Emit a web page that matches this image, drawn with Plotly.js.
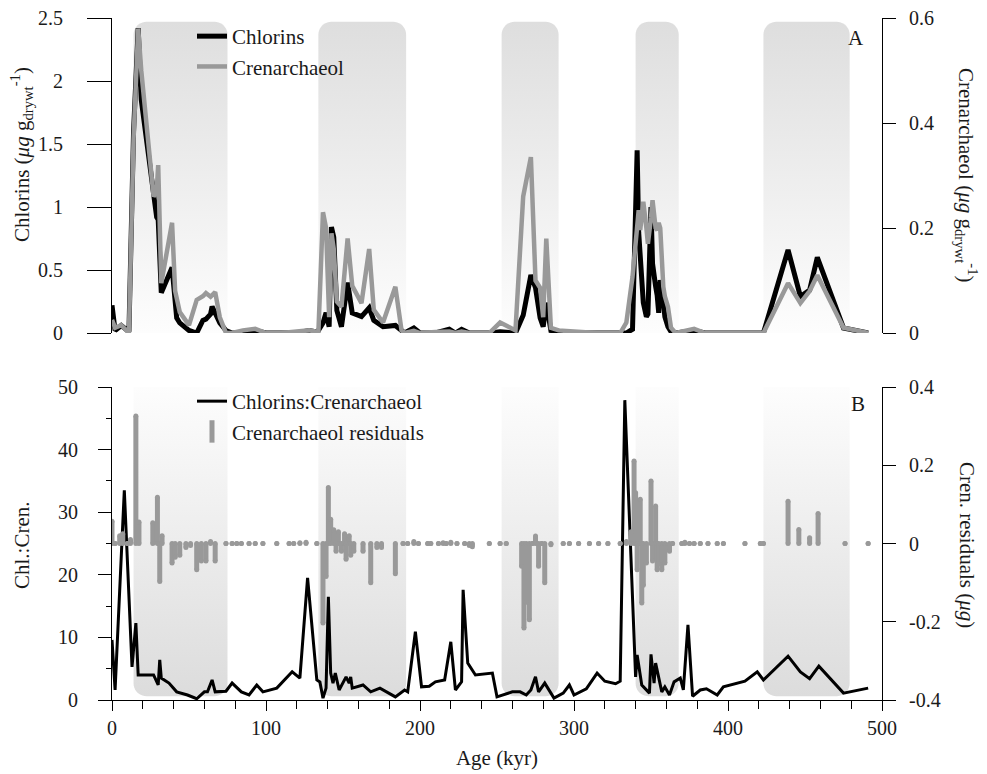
<!DOCTYPE html>
<html>
<head>
<meta charset="utf-8">
<script src="https://cdn.plot.ly/plotly-3.0.1.min.js"></script>
<style>html,body{margin:0;padding:0;background:#fff;}#chart{width:987px;height:774px;}</style>
</head>
<body>
<div id="chart"></div>
<script>
// ---------- data ----------
const ageTop = [0,2,6,11,14,17,19,27,29,30,32,39,41,42,44,50,55,59,61,64,65,67,70,74,78,85,93,100,110,120,128,132,134,137,139,141,142.5,144,146,149,153,156,162,167,170,176,184,188,190,196,200,210,219,223,227,232,245,252,262,267,272,275,278,280,282,285,290,300,315,330,334,338,341,342,343,345,347,348,350,351,353,354,355,356,358,359,361,363,366,372,378,385,400,415,423,439,447,453,458,475,491];
const chlorins = [0.22,0.02,0.06,0.01,1.6,2.42,1.85,1.05,0.92,0.9,0.32,0.52,0.17,0.12,0.08,0.02,0.0,0.1,0.11,0.15,0.21,0.15,0.08,0.02,0.0,0.0,0.02,0.0,0.0,0.0,0.02,0.01,0.02,0.08,0.16,0.05,0.84,0.76,0.18,0.05,0.4,0.16,0.13,0.2,0.1,0.05,0.06,0.02,0.0,0.04,0.0,0.0,0.03,0.0,0.03,0.0,0.0,0.01,0.0,0.14,0.46,0.36,0.12,0.05,0.24,0.02,0.01,0.0,0.0,0.0,0.0,0.03,1.45,0.8,0.55,0.24,0.13,0.15,1.0,0.55,0.37,0.3,0.16,0.42,0.25,0.13,0.05,0.01,0.0,0.01,0.02,0.0,0.0,0.0,0.0,0.66,0.29,0.34,0.6,0.04,0.0];
const cren = [0.025,0.01,0.015,0.0,0.37,0.58,0.5,0.26,0.27,0.32,0.095,0.21,0.08,0.063,0.04,0.015,0.063,0.07,0.076,0.069,0.072,0.078,0.03,0.0,0.0,0.005,0.008,0.0,0.0,0.003,0.005,0.003,0.0,0.23,0.2,0.03,0.19,0.16,0.06,0.05,0.18,0.09,0.057,0.16,0.044,0.02,0.088,0.005,0.0,0.004,0.0,0.002,0.003,0.0,0.003,0.0,0.0,0.02,0.005,0.26,0.335,0.1,0.086,0.03,0.18,0.01,0.005,0.003,0.0,0.0,0.02,0.107,0.2,0.234,0.196,0.25,0.2,0.17,0.22,0.253,0.2,0.196,0.21,0.2,0.088,0.07,0.05,0.01,0.0,0.003,0.008,0.0,0.0,0.0,0.0,0.095,0.057,0.08,0.11,0.01,0.0];

const ageRatio = [0,2,8,13,15.5,17,27,30,31,32,37,42,49,55,60,62,65,67,74,78,84,89,94,98,107,117,122,127,133,135,137,139,140.5,142,143.5,145,147.5,152,154,155,156,163,168,174,184,190,192,197,201,206,210,216,220,223,227,228,231,236,247,250,260,265,269,272,275,277,281,287,293,297,300,308,315,320,327,330,333,340,341,344,349,350,352,353,357,359,362,365,369,371,374,377,382,386,393,397,411,419,423,439,447,453,459,475,491];
const ratio = [9.6,1.6,33.5,5.3,12.3,4,4,2.4,6.4,3.5,2.7,1.3,0.8,0.2,1.3,1.3,3.2,1.3,1.4,2.7,1.3,0.8,2.4,1.3,1.9,4.5,3.5,19.5,3.2,2.9,0.3,1.9,16.5,4.3,2.7,4.3,1.6,3.7,2.7,3.7,1.9,2.4,1.3,1.9,0.5,1.6,1.3,10.9,2.1,2.2,2.9,3.2,9.3,1.6,2.9,17.6,5.9,4,4.3,0.5,1.3,1.3,0.8,1.6,3.7,1.3,2.7,0.3,1.1,2.4,0.8,1.8,4.3,3,2.6,3,47.9,3.7,7.2,2.4,1.1,7.3,2.7,5.9,1.3,2.1,0.8,2.9,3.5,1.6,12,0.6,1.6,1.8,0.8,2.1,3,4.5,3.2,7,4.5,3.4,5.4,1.1,1.9];

const ageRes = [0,2,5,7,10,12,15.5,17.5,26.5,29.5,31,32.5,39,41,44,48,51,55,58,61,64,67,74,78,81,84,89,93,98,107,115,118,122,126,133,137,139,140.5,142,144,145.5,147,149,151,152,154,155,157,163,168,172,175,184,189,192,196,199,205,207,212,215,217,220,224,229,232,234,245,252,256,266,267.5,269,271,273,275,277,279,281,285,293,297,303,310,316,322,330,334,337,339,340,341,343,344,345,347,350,351,353,354,355,357,359,362,364,370,372,375,378,382,387,393,397,411,421,423,439,446,453,458.5,476,491];
const residuals = [0.057,0,0.02,0.025,0,0.01,0.326,0.055,0.053,0.118,-0.097,0.02,-0.05,-0.035,-0.03,-0.01,-0.005,-0.067,-0.045,-0.045,0.005,-0.045,0,0,0,0,0,0,0,0,0,0,0.002,0.003,0,-0.203,-0.084,0.143,0.062,0.035,-0.02,0.03,-0.02,0.025,-0.04,0.02,-0.03,-0.02,-0.02,-0.1,-0.01,-0.01,-0.077,0,0,0.005,0,0,0,0,0.002,0,0.003,0,0,-0.005,-0.008,0,0,0,-0.058,-0.216,-0.15,-0.195,0,0.019,-0.058,0,-0.1,-0.003,0,0,0,0,0,0,0,0.005,0.03,0.211,0.13,-0.067,0.113,-0.152,-0.107,-0.05,0.16,-0.045,0.096,-0.067,-0.052,-0.067,-0.05,-0.02,0,0,0.003,0,0,0,0,0,0,0,0,0,0.108,0.036,0.015,0.077,0,0];

// glacial bands (kyr)
const bandStart = [14, 134, 253, 340, 423];
const bandEnd   = [75, 191, 290, 368, 479];

// tick labels
const resTickVals = [-0.4, -0.2, 0, 0.2, 0.4];
const resTickText = ['-0.4', '-0.2', '0', '0.2', '0.4'];

// ---------- helpers ----------
const FONT = '"Liberation Serif", "Times New Roman", Times, serif';
function roundedBand(x0, x1, yEdge, yFar, rx, ry) {
  const s = yEdge > yFar ? 1 : -1, n = 10, xs = [], ys = [];
  xs.push(x0); ys.push(yFar);
  for (let i = 0; i <= n; i++) { const t = Math.PI - (Math.PI / 2) * i / n; xs.push(x0 + rx + rx * Math.cos(t)); ys.push(yEdge - s * ry + s * ry * Math.sin(t)); }
  for (let i = 0; i <= n; i++) { const t = Math.PI / 2 - (Math.PI / 2) * i / n; xs.push(x1 - rx + rx * Math.cos(t)); ys.push(yEdge - s * ry + s * ry * Math.sin(t)); }
  xs.push(x1); ys.push(yFar);
  return { xs, ys };
}

const traces = [];
// bands, top panel (grey at top fading to white)
bandStart.forEach((b, i) => {
  const p = roundedBand(b, bandEnd[i], 2.47, -0.3, 8.4, 0.103);
  traces.push({ type: 'scatter', x: p.xs, y: p.ys, xaxis: 'x', yaxis: 'y3', mode: 'none', fill: 'toself',
    fillgradient: { type: 'vertical', start: 0, stop: 2.47, colorscale: [[0, '#fdfdfd'], [1, '#dedede']] },
    hoverinfo: 'skip', showlegend: false });
});
// bands, bottom panel (white at top to grey at bottom)
bandStart.forEach((b, i) => {
  const p = roundedBand(b, bandEnd[i], 0.6, 60, 8.4, 2.08);
  traces.push({ type: 'scatter', x: p.xs, y: p.ys, xaxis: 'x', yaxis: 'y', mode: 'none', fill: 'toself',
    fillgradient: { type: 'vertical', start: 0.6, stop: 50, colorscale: [[0, '#dcdcdc'], [1, '#fdfdfd']] },
    hoverinfo: 'skip', showlegend: false });
});

// top panel series
traces.push({ type: 'scatter', mode: 'lines', name: 'Chlorins', x: ageTop, y: chlorins, xaxis: 'x', yaxis: 'y3',
  line: { color: '#000000', width: 5 }, legend: 'legend' });
traces.push({ type: 'scatter', mode: 'lines', name: 'Crenarchaeol', x: ageTop, y: cren, xaxis: 'x', yaxis: 'y4',
  line: { color: '#999999', width: 4.5 }, legend: 'legend' });

// residual bars (drawn as thick stems with round ends)
const rx = [], ry = [];
ageRes.forEach((a, i) => { rx.push(a, a, null); ry.push(0, residuals[i], null); });
traces.push({ type: 'scatter', mode: 'lines+markers', x: rx, y: ry, xaxis: 'x', yaxis: 'y2',
  line: { color: '#999999', width: 5 }, marker: { color: '#999999', size: 5 }, showlegend: false, hoverinfo: 'skip' });
traces.push({ type: 'scatter', mode: 'markers', name: 'Crenarchaeol residuals', x: [null], y: [null], xaxis: 'x', yaxis: 'y2',
  marker: { symbol: 'line-ns', size: 16, line: { color: '#999999', width: 6 }, color: '#999999' },
  legend: 'legend2', legendrank: 2 });
traces.push({ type: 'scatter', mode: 'lines', name: 'Chlorins:Crenarchaeol', x: ageRatio, y: ratio, xaxis: 'x', yaxis: 'y',
  line: { color: '#000000', width: 3 }, legend: 'legend2', legendrank: 1 });

const axBase = { showline: true, linecolor: '#000', linewidth: 1, ticks: 'outside', tickcolor: '#000', tickwidth: 1,
  showgrid: false, zeroline: false, tickfont: { family: FONT, size: 20, color: '#1a1a1a' }, fixedrange: true };

const plotL = 112, plotW = 770, plotT = 18, plotH = 682;
const px2x = p => (p - plotL) / plotW;
const py2y = p => (plotT + plotH - p) / plotH;
const TF = { family: FONT, size: 21, color: '#1a1a1a' };

const layout = {
  width: 987, height: 774,
  margin: { l: 112, r: 105, t: 18, b: 74 },
  paper_bgcolor: '#ffffff', plot_bgcolor: 'rgba(0,0,0,0)',
  font: { family: FONT, size: 20, color: '#1a1a1a' },
  showlegend: true,
  xaxis: Object.assign({}, axBase, { domain: [0, 1], range: [0, 500], anchor: 'y', tick0: 0, dtick: 100, ticklen: 10,
    minor: { dtick: 20, ticks: 'outside', ticklen: 8, tickcolor: '#000', showgrid: false },
    title: { text: 'Age (kyr)', font: TF, standoff: 12 } }),
  yaxis: Object.assign({}, axBase, { domain: [0, 0.4589], range: [0, 50], anchor: 'x', dtick: 10, ticklen: 13, ticklabelstandoff: 16,
    minor: { dtick: 5, ticks: 'outside', ticklen: 5, tickcolor: '#000', showgrid: false } }),
  yaxis2: Object.assign({}, axBase, { overlaying: 'y', side: 'right', anchor: 'x', range: [-0.4, 0.4], tickvals: resTickVals, ticktext: resTickText, ticklen: 13, ticklabelstandoff: 9 }),
  yaxis3: Object.assign({}, axBase, { domain: [0.5381, 1], range: [0, 2.5], anchor: 'x', dtick: 0.5, ticklen: 24, ticklabelstandoff: 20 }),
  yaxis4: Object.assign({}, axBase, { overlaying: 'y3', side: 'right', anchor: 'x', range: [0, 0.6], dtick: 0.2, ticklen: 13, ticklabelstandoff: 9 }),
  legend: { x: px2x(192), y: py2y(16), xanchor: 'left', yanchor: 'top', bgcolor: 'rgba(0,0,0,0)', traceorder: 'normal',
    font: TF, itemwidth: 30, tracegroupgap: 0 },
  legend2: { x: px2x(192), y: py2y(381), xanchor: 'left', yanchor: 'top', bgcolor: 'rgba(0,0,0,0)', traceorder: 'normal',
    font: TF, itemwidth: 30, tracegroupgap: 0 },
  annotations: [
    { xref: 'paper', yref: 'paper', x: px2x(856), y: py2y(38), xanchor: 'center', yanchor: 'middle', text: 'A', showarrow: false, font: TF },
    { xref: 'paper', yref: 'paper', x: px2x(858), y: py2y(404), xanchor: 'center', yanchor: 'middle', text: 'B', showarrow: false, font: TF },
    { xref: 'paper', yref: 'paper', x: px2x(21), y: py2y(155), xanchor: 'center', yanchor: 'middle', textangle: -90, showarrow: false,
      text: 'Chlorins (<i>μg</i> g<sub>drywt</sub><sup>-1</sup>)', font: TF },
    { xref: 'paper', yref: 'paper', x: px2x(22), y: py2y(545), xanchor: 'center', yanchor: 'middle', textangle: -90, showarrow: false,
      text: 'Chl.:Cren.', font: TF },
    { xref: 'paper', yref: 'paper', x: px2x(967), y: py2y(175), xanchor: 'center', yanchor: 'middle', textangle: 90, showarrow: false,
      text: 'Crenarchaeol (<i>μg</i> g<sub>drywt</sub><sup>-1</sup>)', font: TF },
    { xref: 'paper', yref: 'paper', x: px2x(967), y: py2y(545), xanchor: 'center', yanchor: 'middle', textangle: 90, showarrow: false,
      text: 'Cren. residuals (<i>μg</i>)', font: TF }
  ]
};

Plotly.newPlot('chart', traces, layout, { displayModeBar: false, staticPlot: true });
</script>
</body>
</html>
